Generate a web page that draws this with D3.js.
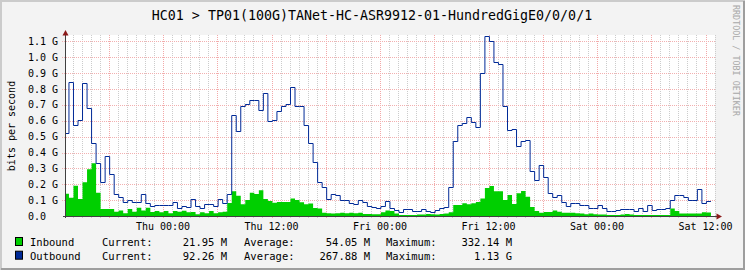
<!DOCTYPE html>
<html>
<head>
<meta charset="utf-8">
<script src="https://cdnjs.cloudflare.com/ajax/libs/d3/7.8.5/d3.min.js"></script>
<style>
body { margin: 0; background: #fff; }
svg text { font-family: "DejaVu Sans Mono", monospace; }
</style>
</head>
<body>
<svg id="chart" width="745" height="270"></svg>
<script>
// 30 minute samples, hours counted from Thu 00:00
var slotStart = -10.9;
var slotHours = 0.5;

// values in G bits per second
var inbound = [
    0.14, 0.115, 0.19, 0.107, 0.212, 0.294, 0.332, 0.147, 0.044, 0.044,
    0.044, 0.027, 0.034, 0.017, 0.044, 0.027, 0.052, 0.034, 0.052, 0.025,
    0.031, 0.023, 0.031, 0.017, 0.031, 0.027, 0.033, 0.023, 0.025, 0.011,
    0.023, 0.017, 0.031, 0.017, 0.023, 0.027, 0.082, 0.156, 0.128, 0.074,
    0.101, 0.147, 0.139, 0.162, 0.107, 0.094, 0.084, 0.088, 0.088, 0.088,
    0.11, 0.101, 0.086, 0.074, 0.078, 0.05, 0.048, 0.02, 0.017, 0.015,
    0.017, 0.02, 0.017, 0.02, 0.017, 0.02, 0.013, 0.013, 0.011, 0.011,
    0.023, 0.034, 0.031, 0.015, 0.007, 0.007, 0.007, 0.007, 0.009, 0.009,
    0.013, 0.011, 0.009, 0.013, 0.015, 0.023, 0.069, 0.069, 0.08, 0.074,
    0.08, 0.088, 0.11, 0.176, 0.189, 0.156, 0.156, 0.101, 0.132, 0.076,
    0.143, 0.158, 0.122, 0.057, 0.031, 0.02, 0.025, 0.025, 0.034, 0.027,
    0.02, 0.02, 0.02, 0.017, 0.015, 0.011, 0.015, 0.011, 0.009, 0.009,
    0.007, 0.007, 0.007, 0.009, 0.013, 0.009, 0.007, 0.007, 0.007, 0.007,
    0.007, 0.007, 0.007, 0.007, 0.048, 0.031, 0.015, 0.015, 0.015, 0.015,
    0.015, 0.023, 0.022
];
var outbound = [
    0.52, 0.842, 0.571, 0.603, 0.836, 0.679, 0.458, 0.332, 0.212, 0.38,
    0.263, 0.139, 0.12, 0.086, 0.103, 0.086, 0.086, 0.137, 0.08, 0.063,
    0.069, 0.069, 0.072, 0.069, 0.086, 0.052, 0.065, 0.058, 0.11, 0.065,
    0.048, 0.074, 0.074, 0.063, 0.11, 0.08, 0.139, 0.638, 0.538, 0.691,
    0.706, 0.729, 0.729, 0.668, 0.775, 0.601, 0.605, 0.66, 0.695, 0.706,
    0.811, 0.691, 0.691, 0.571, 0.458, 0.338, 0.216, 0.183, 0.11, 0.141,
    0.132, 0.099, 0.099, 0.082, 0.078, 0.099, 0.086, 0.063, 0.057, 0.048,
    0.065, 0.094, 0.052, 0.04, 0.027, 0.044, 0.044, 0.031, 0.033, 0.046,
    0.031, 0.025, 0.04, 0.052, 0.057, 0.181, 0.473, 0.575, 0.584, 0.626,
    0.59, 0.559, 0.899, 1.134, 1.103, 0.968, 0.956, 0.695, 0.542, 0.548,
    0.439, 0.473, 0.477, 0.281, 0.225, 0.319, 0.246, 0.147, 0.122, 0.13,
    0.086, 0.063, 0.08, 0.08, 0.071, 0.067, 0.048, 0.048, 0.067, 0.048,
    0.031, 0.031, 0.038, 0.042, 0.042, 0.042, 0.034, 0.048, 0.031, 0.067,
    0.036, 0.042, 0.042, 0.052, 0.103, 0.13, 0.13, 0.118, 0.099, 0.103,
    0.172, 0.08, 0.092
];

var tickHours = [0, 12, 24, 36, 48, 60];
var tickLabels = ["Thu 00:00", "Thu 12:00", "Fri 00:00", "Fri 12:00", "Sat 00:00", "Sat 12:00"];
var yTicks = [0, 0.1, 0.2, 0.3, 0.4, 0.5, 0.6, 0.7, 0.8, 0.9, 1.0, 1.1];
var yLabels = ["0.0", "0.1 G", "0.2 G", "0.3 G", "0.4 G", "0.5 G", "0.6 G", "0.7 G", "0.8 G", "0.9 G", "1.0 G", "1.1 G"];

var seriesNames = ["Inbound", "Outbound"];
var currentVals = ["21.95 M", "92.26 M"];
var averageVals = ["54.05 M", "267.88 M"];
var maximumVals = ["332.14 M", "1.13 G"];

var title = "HC01 > TP01(100G)TANet-HC-ASR9912-01-HundredGigE0/0/0/1";

drawGraph();

function drawGraph() {
    var width = 745;
    var height = 270;
    var pLeft = 65, pRight = 715, pTop = 35, pBottom = 216;

    var svg = d3.select("#chart");

    // canvas + 3d frame
    svg.append("rect").attr("width", width).attr("height", height).attr("fill", "#f3f3f3");
    svg.append("path").attr("d", `M1,${height} V1 H${width}`).attr("fill", "none")
        .attr("stroke", "#cbcbcb").attr("stroke-width", 2);
    svg.append("path").attr("d", `M1,${height - 1} H${width - 1} V1`).attr("fill", "none")
        .attr("stroke", "#9e9e9e").attr("stroke-width", 2);

    svg.append("rect").attr("x", pLeft).attr("y", pTop)
        .attr("width", pRight - pLeft).attr("height", pBottom - pTop).attr("fill", "#ffffff");

    var x = d3.scaleLinear()
        .domain([(pLeft - 163) / 9.042, (pRight - 163) / 9.042])
        .range([pLeft, pRight]);
    var y = d3.scaleLinear()
        .domain([0, 1.1405])
        .range([pBottom, pTop]);

    // grid: hour lines grey, 6 hour lines red
    var hours = d3.range(Math.ceil(x.domain()[0]), Math.floor(x.domain()[1]) + 1);
    var grid = svg.append("g").attr("shape-rendering", "crispEdges");
    grid.selectAll(".minor")
        .data(hours.filter(h => h % 6 != 0))
        .enter().append("line")
        .attr("x1", d => Math.round(x(d)) + 0.5).attr("x2", d => Math.round(x(d)) + 0.5)
        .attr("y1", pTop).attr("y2", pBottom + 2)
        .attr("stroke", "#cccccc").attr("stroke-dasharray", "1,1");
    grid.selectAll(".major")
        .data(hours.filter(h => h % 6 == 0))
        .enter().append("line")
        .attr("x1", d => Math.round(x(d)) + 0.5).attr("x2", d => Math.round(x(d)) + 0.5)
        .attr("y1", pTop).attr("y2", pBottom + 3)
        .attr("stroke", "#f2a8a8").attr("stroke-dasharray", "1,1");
    grid.selectAll(".hgrid")
        .data(yTicks.slice(1))
        .enter().append("line")
        .attr("x1", pLeft - 3).attr("x2", pRight)
        .attr("y1", d => Math.round(y(d)) + 0.5).attr("y2", d => Math.round(y(d)) + 0.5)
        .attr("stroke", "#f2b0b0").attr("stroke-dasharray", "1,1");

    // data
    var points = function (values) {
        var pts = values.map((v, i) => [slotStart + i * slotHours, v]);
        pts.push([slotStart + values.length * slotHours, values[values.length - 1]]);
        return pts;
    };

    svg.append("clipPath").attr("id", "plot")
        .append("rect").attr("x", pLeft).attr("y", pTop - 1)
        .attr("width", pRight - pLeft).attr("height", pBottom - pTop + 1);

    var area = d3.area()
        .curve(d3.curveStepAfter)
        .x(d => x(d[0]))
        .y0(y(0))
        .y1(d => y(d[1]));
    var line = d3.line()
        .curve(d3.curveStepAfter)
        .x(d => x(d[0]))
        .y(d => Math.round(y(d[1])) + 0.5);

    svg.append("path")
        .attr("clip-path", "url(#plot)")
        .attr("d", area(points(inbound)))
        .attr("fill", "#00cf00");
    svg.append("path")
        .attr("clip-path", "url(#plot)")
        .attr("d", line(points(outbound)))
        .attr("fill", "none")
        .attr("stroke", "#002a97")
        .attr("stroke-width", 1);

    // axes
    svg.append("line").attr("x1", pLeft + 0.5).attr("x2", pLeft + 0.5)
        .attr("y1", pBottom + 2).attr("y2", pTop - 1)
        .attr("stroke", "#404040");
    svg.append("line").attr("x1", pLeft - 2).attr("x2", pRight + 2)
        .attr("y1", pBottom + 0.5).attr("y2", pBottom + 0.5)
        .attr("stroke", "#404040");
    svg.append("path").attr("d", `M${pLeft + 0.5},30 L${pLeft - 2.5},35.5 L${pLeft + 3.5},35.5 Z`).attr("fill", "#8b1a1a");
    svg.append("path").attr("d", `M722,${pBottom + 0.5} L716.5,${pBottom - 2.5} L716.5,${pBottom + 3.5} Z`).attr("fill", "#8b1a1a");

    svg.selectAll(".ylab")
        .data(yTicks)
        .enter().append("text")
        .attr("x", 28)
        .attr("y", d => y(d) + 3.5)
        .attr("font-size", "10px")
        .attr("fill", "#000")
        .text((d, i) => yLabels[i]);

    svg.selectAll(".xlab")
        .data(tickHours)
        .enter().append("text")
        .attr("x", d => x(d))
        .attr("y", 229.5)
        .attr("text-anchor", "middle")
        .attr("font-size", "10px")
        .attr("fill", "#000")
        .text((d, i) => tickLabels[i]);

    svg.append("text")
        .attr("x", 372).attr("y", 19.5)
        .attr("text-anchor", "middle")
        .attr("font-size", "13.3px")
        .attr("fill", "#000")
        .text(title);

    svg.append("text")
        .attr("transform", "translate(15,126) rotate(-90)")
        .attr("text-anchor", "middle")
        .attr("font-size", "10px")
        .attr("fill", "#000")
        .text("bits per second");

    svg.append("text")
        .attr("transform", "translate(732.5,5) rotate(90)")
        .attr("font-size", "8.4px")
        .attr("fill", "#a8a8a8")
        .text("RRDTOOL / TOBI OETIKER");

    // legend
    var legendColors = ["#00cf00", "#002a97"];
    var legend = svg.selectAll(".legend")
        .data(seriesNames)
        .enter().append("g")
        .attr("transform", (d, i) => `translate(0, ${246 + i * 13.7})`);
    legend.append("rect")
        .attr("x", 15.5).attr("y", -8.5)
        .attr("width", 7).attr("height", 8)
        .attr("fill", (d, i) => legendColors[i])
        .attr("stroke", "#000");
    legend.append("text").attr("x", 30).attr("font-size", "10.5px").text(d => d);
    legend.append("text").attr("x", 102).attr("font-size", "10.5px").text("Current:");
    legend.append("text").attr("x", 227).attr("text-anchor", "end").attr("font-size", "10.5px").text((d, i) => currentVals[i]);
    legend.append("text").attr("x", 244).attr("font-size", "10.5px").text("Average:");
    legend.append("text").attr("x", 370).attr("text-anchor", "end").attr("font-size", "10.5px").text((d, i) => averageVals[i]);
    legend.append("text").attr("x", 386).attr("font-size", "10.5px").text("Maximum:");
    legend.append("text").attr("x", 512).attr("text-anchor", "end").attr("font-size", "10.5px").text((d, i) => maximumVals[i]);
}
</script>
</body>
</html>
